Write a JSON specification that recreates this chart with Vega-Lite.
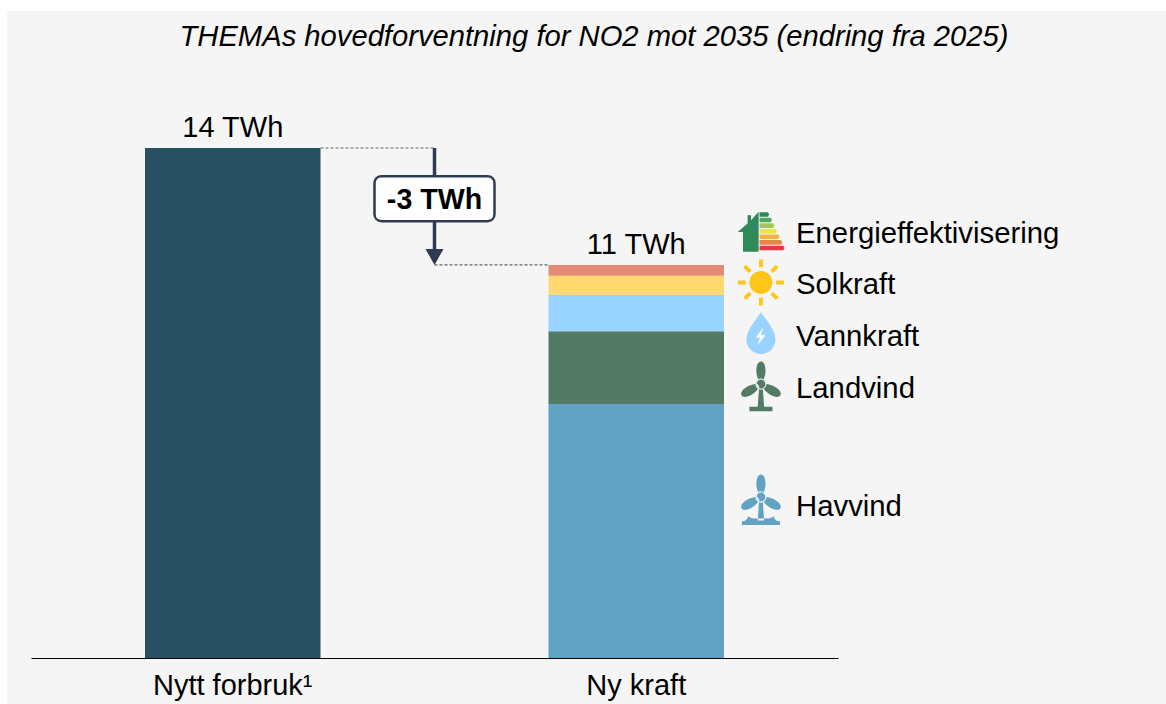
{"$schema":"https://vega.github.io/schema/vega-lite/v6.json","autosize":{"type":"none"},"padding":{"left":7,"top":11,"right":0,"bottom":0},"width":1159,"height":693,"background":"#ffffff","view":{"fill":"#f5f5f5","stroke":null},"config":{"font":"Liberation Sans"},"title":{"text":"THEMAs hovedforventning for NO2 mot 2035 (endring fra 2025)","font":"Liberation Sans","fontSize":29.2,"fontStyle":"italic","fontWeight":"normal","color":"#000000","anchor":"middle","dx":7.5,"offset":-41},"datasets":{"bars":[{"kategori":"Nytt forbruk¹","kilde":"Nytt forbruk","TWh":14,"rekkefolge":1},{"kategori":"Ny kraft","kilde":"Havvind","TWh":6.97,"rekkefolge":1},{"kategori":"Ny kraft","kilde":"Landvind","TWh":2.0,"rekkefolge":2},{"kategori":"Ny kraft","kilde":"Vannkraft","TWh":1.0,"rekkefolge":3},{"kategori":"Ny kraft","kilde":"Solkraft","TWh":0.52,"rekkefolge":4},{"kategori":"Ny kraft","kilde":"Energieffektivisering","TWh":0.3,"rekkefolge":5}],"totals":[{"kategori":"Nytt forbruk¹","TWh":14,"tekst":"14 TWh"},{"kategori":"Ny kraft","TWh":10.79,"tekst":"11 TWh"}],"legend":[{"kategori":"Ny kraft","kilde":"Energieffektivisering","etikettTWh":11.67},{"kategori":"Ny kraft","kilde":"Solkraft","etikettTWh":10.27},{"kategori":"Ny kraft","kilde":"Vannkraft","etikettTWh":8.84},{"kategori":"Ny kraft","kilde":"Landvind","etikettTWh":7.41},{"kategori":"Ny kraft","kilde":"Havvind","etikettTWh":4.17}],"icons":[{"kategori":"Ny kraft","del":"hus","ikonTWh":11.69},{"kategori":"Ny kraft","del":"A","ikonTWh":11.69},{"kategori":"Ny kraft","del":"B","ikonTWh":11.69},{"kategori":"Ny kraft","del":"C","ikonTWh":11.69},{"kategori":"Ny kraft","del":"D","ikonTWh":11.69},{"kategori":"Ny kraft","del":"E","ikonTWh":11.69},{"kategori":"Ny kraft","del":"F","ikonTWh":11.69},{"kategori":"Ny kraft","del":"G","ikonTWh":11.69},{"kategori":"Ny kraft","del":"sol","ikonTWh":10.31},{"kategori":"Ny kraft","del":"draape","ikonTWh":8.92},{"kategori":"Ny kraft","del":"lyn","ikonTWh":8.92},{"kategori":"Ny kraft","del":"land","ikonTWh":7.41},{"kategori":"Ny kraft","del":"ringland","ikonTWh":7.41},{"kategori":"Ny kraft","del":"hav","ikonTWh":4.31},{"kategori":"Ny kraft","del":"ringhav","ikonTWh":4.31}]},"encoding":{"x":{"field":"kategori","type":"nominal","sort":["Nytt forbruk¹","Ny kraft"],"scale":{"domain":["Nytt forbruk¹","Ny kraft"],"paddingInner":0,"paddingOuter":0,"range":[24,831]},"axis":{"title":null,"labelAngle":0,"labelFont":"Liberation Sans","labelFontSize":29,"labelColor":"#000000","labelPadding":13,"ticks":false,"domainColor":"#000000","domainWidth":1,"grid":false,"offset":-46}}},"layer":[{"data":{"values":[{"kategori":"Nytt forbruk¹","fra":14}]},"mark":{"type":"rule","stroke":"#666666","strokeWidth":1.2,"strokeDash":[3,2]},"encoding":{"x":{"field":"kategori","type":"nominal","bandPosition":0.7175},"x2":{"field":"kategori","bandPosition":1},"y":{"field":"fra","type":"quantitative","scale":{"domain":[0,14],"nice":false,"zero":true,"range":[647,137]},"axis":null}}},{"data":{"values":[{"kategori":"Ny kraft","fra":10.79}]},"mark":{"type":"rule","stroke":"#666666","strokeWidth":1.2,"strokeDash":[3,2]},"encoding":{"x":{"field":"kategori","type":"nominal","bandPosition":0},"x2":{"field":"kategori","bandPosition":0.2825},"y":{"field":"fra","type":"quantitative"}}},{"data":{"values":[{"kategori":"Nytt forbruk¹","fra":14,"til":11.1}]},"mark":{"type":"rule","stroke":"#2d3a50","strokeWidth":3.5},"encoding":{"x":{"field":"kategori","type":"nominal","bandPosition":1},"y":{"field":"fra","type":"quantitative"},"y2":{"field":"til"}}},{"data":{"values":[{"kategori":"Nytt forbruk¹","fra":10.79}]},"mark":{"type":"point","filled":true,"opacity":1,"size":324,"fill":"#2d3a50","shape":"M-1 -1.78L1 -1.78L0 0Z"},"encoding":{"x":{"field":"kategori","type":"nominal","bandPosition":1},"y":{"field":"fra","type":"quantitative"}}},{"data":{"values":[{"kategori":"Nytt forbruk¹","midt":12.61,"tekst":"-3 TWh"}]},"layer":[{"mark":{"type":"point","filled":false,"opacity":1,"fillOpacity":1,"size":14400,"fill":"#ffffff","stroke":"#2f3b52","strokeWidth":2.5,"shape":"M-.88 -.375L.88 -.375C.95 -.375 1 -.325 1 -.255L1 .255C1 .325 .95 .375 .88 .375L-.88 .375C-.95 .375 -1 .325 -1 .255L-1 -.255C-1 -.325 -.95 -.375 -.88 -.375Z"},"encoding":{"x":{"field":"kategori","type":"nominal","bandPosition":1},"y":{"field":"midt","type":"quantitative"}}},{"mark":{"type":"text","font":"Liberation Sans","fontSize":28.6,"fontWeight":"bold","color":"#000000","baseline":"middle","align":"center","dy":1.5},"encoding":{"x":{"field":"kategori","type":"nominal","bandPosition":1},"y":{"field":"midt","type":"quantitative"},"text":{"field":"tekst"}}}]},{"data":{"name":"bars"},"mark":{"type":"bar","size":175.5},"encoding":{"y":{"field":"TWh","type":"quantitative","stack":"zero"},"order":{"field":"rekkefolge","type":"quantitative"},"color":{"field":"kilde","type":"nominal","legend":null,"scale":{"domain":["Nytt forbruk","Havvind","Landvind","Vannkraft","Solkraft","Energieffektivisering"],"range":["#285063","#62a2c3","#527a65","#99d3ff","#ffd970","#e38b75"]}}}},{"data":{"name":"totals"},"mark":{"type":"text","font":"Liberation Sans","fontSize":29,"color":"#000000","baseline":"bottom","dy":-5},"encoding":{"y":{"field":"TWh","type":"quantitative"},"text":{"field":"tekst"}}},{"data":{"name":"legend"},"mark":{"type":"text","font":"Liberation Sans","fontSize":29.3,"color":"#000000","baseline":"middle","align":"left","dy":1},"encoding":{"x":{"field":"kategori","type":"nominal","bandPosition":0.896},"y":{"field":"etikettTWh","type":"quantitative"},"text":{"field":"kilde"}}},{"data":{"name":"icons"},"mark":{"type":"point","filled":true,"opacity":1,"size":2116,"clip":false},"encoding":{"x":{"field":"kategori","type":"nominal","bandPosition":0.809},"y":{"field":"ikonTWh","type":"quantitative"},"shape":{"field":"del","type":"nominal","legend":null,"scale":{"domain":["hus","A","B","C","D","E","F","G","sol","draape","lyn","land","ringland","hav","ringhav"],"range":["M-1.01 -.01L-.58 -.38L-.58 -.74L-.43 -.74L-.43 -.52L-.1 -.885L-.1 .855L-.78 .855L-.78 -.01Z","M-.06 -.87L.3 -.87L.36 -.77L.3 -.67L-.06 -.67Z","M-.06 -.627L.42 -.627L.48 -.527L.42 -.427L-.06 -.427Z","M-.06 -.384L.52 -.384L.58 -.284L.52 -.184L-.06 -.184Z","M-.06 -.141L.64 -.141L.7 -.041L.64 .059L-.06 .059Z","M-.06 .102L.75 .102L.81 .202L.75 .302L-.06 .302Z","M-.06 .345L.87 .345L.93 .445L.87 .545L-.06 .545Z","M-.06 .588L.97 .588L1.03 .688L.97 .788L-.06 .788Z","M-.5 0A.5 .5 0 1 1 .5 0A.5 .5 0 1 1 -.5 0ZM-.085 -1L.085 -1L.085 -.66L-.085 -.66ZM-.085 .66L.085 .66L.085 1L-.085 1ZM-1 -.085L-.66 -.085L-.66 .085L-1 .085ZM.66 -.085L1 -.085L1 .085L.66 .085ZM-.767 -.647L-.647 -.767L-.407 -.527L-.527 -.407ZM.647 -.767L.767 -.647L.527 -.407L.407 -.527ZM-.767 .647L-.527 .407L-.407 .527L-.647 .767ZM.527 .407L.767 .647L.647 .767L.407 .527Z","M0 -.91C.2 -.6 .63 -.15 .63 .28A.63 .63 0 0 1 -.63 .28C-.63 -.15 -.2 -.6 0 -.91Z","M.1 -.25L-.22 .19L-.04 .19L-.14 .52L.2 .09L.01 .09Z","M-.2 -.72C-.2 -1 -.12 -1.15 0 -1.15C.12 -1.15 .2 -1 .2 -.72C.2 -.55 .12 -.4 .09 -.3L-.09 -.3C-.12 -.4 -.2 -.55 -.2 -.72ZM.573 -.074C.815 .066 .905 .21 .845 .314C.785 .418 .615 .412 .373 .272C.226 .187 .136 .043 .064 -.033L.154 -.189C.256 -.165 .426 -.159 .573 -.074ZM-.573 -.074C-.815 .066 -.905 .21 -.845 .314C-.785 .418 -.615 .412 -.373 .272C-.226 .187 -.136 .043 -.064 -.033L-.154 -.189C-.256 -.165 -.426 -.159 -.573 -.074ZM-.2 -.174A.2 .2 0 1 1 .2 -.174A.2 .2 0 1 1 -.2 -.174ZM-.08 0L.08 0L.14 .82L-.14 .82ZM-.5 .81L.5 .81L.5 1.01L-.5 1.01Z","M-.245 -.174A.245 .245 0 1 1 .245 -.174A.245 .245 0 1 1 -.245 -.174ZM-.19 -.174A.19 .19 0 1 0 .19 -.174A.19 .19 0 1 0 -.19 -.174Z","M-.2 -.72C-.2 -1 -.12 -1.15 0 -1.15C.12 -1.15 .2 -1 .2 -.72C.2 -.55 .12 -.4 .09 -.3L-.09 -.3C-.12 -.4 -.2 -.55 -.2 -.72ZM.573 -.074C.815 .066 .905 .21 .845 .314C.785 .418 .615 .412 .373 .272C.226 .187 .136 .043 .064 -.033L.154 -.189C.256 -.165 .426 -.159 .573 -.074ZM-.573 -.074C-.815 .066 -.905 .21 -.845 .314C-.785 .418 -.615 .412 -.373 .272C-.226 .187 -.136 .043 -.064 -.033L-.154 -.189C-.256 -.165 -.426 -.159 -.573 -.074ZM-.2 -.174A.2 .2 0 1 1 .2 -.174A.2 .2 0 1 1 -.2 -.174ZM-.08 0L.08 0L.14 .85L-.14 .85ZM-.83 1.04L.83 1.04L.83 .88C.7 .9 .6 .82 .55 .66C.45 .72 .38 .78 .14 .76L-.14 .76C-.38 .78 -.45 .72 -.55 .66C-.6 .82 -.7 .9 -.83 .88Z","M-.245 -.174A.245 .245 0 1 1 .245 -.174A.245 .245 0 1 1 -.245 -.174ZM-.19 -.174A.19 .19 0 1 0 .19 -.174A.19 .19 0 1 0 -.19 -.174Z"]}},"color":{"field":"del","type":"nominal","legend":null,"scale":{"domain":["hus","A","B","C","D","E","F","G","sol","draape","lyn","land","ringland","hav","ringhav"],"range":["#2e8b57","#2e8b57","#4fa862","#a0c94f","#f0e442","#f6b04a","#ee8347","#e63946","#ffc61a","#99d3ff","#ffffff","#527a65","#dfe7e2","#62a2c3","#e3eef4"]}}}}],"resolve":{"scale":{"color":"independent","shape":"independent"}}}
